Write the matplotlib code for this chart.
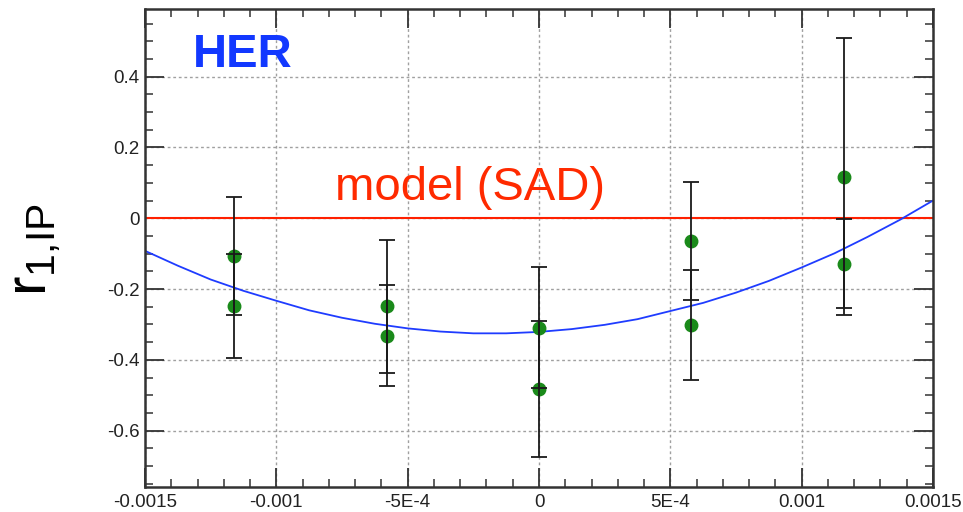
import matplotlib
matplotlib.use("Agg")
import matplotlib.pyplot as plt
from matplotlib.ticker import MultipleLocator, FixedLocator, FixedFormatter

plt.rcParams['font.family'] = ['Liberation Sans', 'DejaVu Sans']
plt.rcParams['mathtext.fontset'] = 'custom'
plt.rcParams['mathtext.rm'] = 'Liberation Sans'
plt.rcParams['mathtext.it'] = 'Liberation Sans'

# ---- data ----
x_pos = [-0.00116, -0.00058, 0.0, 0.00058, 0.00116]
r1_a = [-0.106, -0.249, -0.309, -0.064, 0.117]
err_a = [0.166, 0.189, 0.170, 0.166, 0.391]
r1_b = [-0.249, -0.332, -0.482, -0.302, -0.128]
err_b = [0.147, 0.143, 0.193, 0.155, 0.125]

fit_x = [-0.0015, -0.001375, -0.00125, -0.001125, -0.001, -0.000875,
         -0.00075, -0.000625, -0.0005, -0.000375, -0.00025, -0.000125,
         0.0, 0.000125, 0.00025, 0.000375, 0.0005, 0.000625, 0.00075,
         0.000875, 0.001, 0.001125, 0.00125, 0.001375, 0.0015]
fit_y = [-0.092, -0.134, -0.173, -0.205, -0.233, -0.260,
         -0.281, -0.298, -0.311, -0.320, -0.325, -0.325,
         -0.321, -0.313, -0.301, -0.285, -0.262, -0.239, -0.210,
         -0.177, -0.139, -0.099, -0.053, -0.004, 0.050]

model_y = 0.0

xticks = [-0.0015, -0.001, -0.0005, 0.0, 0.0005, 0.001, 0.0015]
xtick_labels = ['-0.0015', '-0.001', '-5E-4', '0', '5E-4', '0.001', '0.0015']
yticks = [-0.6, -0.4, -0.2, 0.0, 0.2, 0.4]
ytick_labels = ['-0.6', '-0.4', '-0.2', '0', '0.2', '0.4']

# ---- figure ----
fig = plt.figure(figsize=(9.63, 5.12), dpi=100)
ax = fig.add_axes([145/963, 1 - 487/512, 788/963, 478/512])

ax.set_xlim(-0.0015, 0.0015)
ax.set_ylim(-0.759, 0.591)

ax.grid(True, which='major', color='#a0a0a0', linestyle=(0, (2, 2)), linewidth=1.0, zorder=0)

ax.axhline(model_y, color='#ff2000', linewidth=1.5, zorder=2)
ax.plot(fit_x, fit_y, color='#1f3cff', linewidth=1.3, zorder=2)

green = '#1a8a1a'
ax.plot(x_pos, r1_a, 'o', color=green, markersize=9, zorder=3)
ax.plot(x_pos, r1_b, 'o', color=green, markersize=9, zorder=3)
ax.errorbar(x_pos, r1_a, yerr=err_a, fmt='none', ecolor='#1a1a1a',
            elinewidth=1.3, capsize=6, capthick=1.3, zorder=4)
ax.errorbar(x_pos, r1_b, yerr=err_b, fmt='none', ecolor='#1a1a1a',
            elinewidth=1.3, capsize=6, capthick=1.3, zorder=4)

ax.xaxis.set_major_locator(FixedLocator(xticks))
ax.xaxis.set_major_formatter(FixedFormatter(xtick_labels))
ax.xaxis.set_minor_locator(MultipleLocator(0.0001))
ax.yaxis.set_major_locator(FixedLocator(yticks))
ax.yaxis.set_major_formatter(FixedFormatter(ytick_labels))
ax.yaxis.set_minor_locator(MultipleLocator(0.05))

ax.tick_params(which='both', direction='in', top=True, right=True,
               color='#333333', labelsize=13.5, labelcolor='#222222')
ax.tick_params(which='major', length=14, width=1.3, pad=4)
ax.tick_params(which='minor', length=6, width=1.1)
ax.tick_params(axis='x', which='major', pad=5)

for sp in ax.spines.values():
    sp.set_color('#333333')
    sp.set_linewidth(1.8)

ax.text(0.061, 0.879, 'HER', transform=ax.transAxes, color='#1238ff',
        fontsize=34, fontweight='bold', ha='left', va='baseline', zorder=5)
ax.text(0.241, 0.600, 'model (SAD)', transform=ax.transAxes, color='#ff2a00',
        fontsize=34, ha='left', va='baseline', zorder=5)

fig.text(35/963, 1 - 250/512, r'$\mathregular{r_{1{,}IP}}$', rotation=90,
         fontsize=42, ha='center', va='center', color='black')

fig.savefig('out.png', dpi=100, facecolor='white')
